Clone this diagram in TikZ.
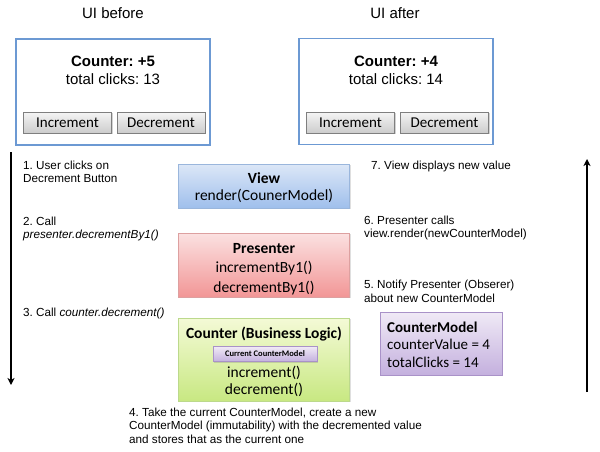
\documentclass[tikz,border=0pt]{standalone}
\usepackage{fontspec}
\setmainfont{Liberation Sans}
\newfontfamily\calib{Carlito}
\usetikzlibrary{shadows,arrows.meta}
\frenchspacing
\definecolor{uiborder}{HTML}{6C99D3}
\definecolor{btnborder}{HTML}{7F7F7F}
\definecolor{viewtop}{HTML}{DCE7F7}
\definecolor{viewbot}{HTML}{9FBFEC}
\definecolor{viewborder}{HTML}{9AB6DC}
\definecolor{prestop}{HTML}{FBE1E1}
\definecolor{presbot}{HTML}{F29696}
\definecolor{presborder}{HTML}{DDA0A0}
\definecolor{cnttop}{HTML}{F4FAD6}
\definecolor{cntbot}{HTML}{C8E882}
\definecolor{cntborder}{HTML}{BCD98C}
\definecolor{cmtop}{HTML}{F0EAF6}
\definecolor{cmbot}{HTML}{C4B0DE}
\definecolor{cmborder}{HTML}{A992C8}
\tikzset{
  x=1pt, y=-1pt,
  uibox/.style={draw=uiborder, line width=1.2pt, fill=white, minimum width=194pt, minimum height=106pt, inner sep=0pt},
  btn/.style={draw=btnborder, line width=0.5pt, top color=gray!8, bottom color=gray!40, minimum width=88pt, minimum height=21pt, inner sep=0pt, font=\calib\fontsize{15}{16}\selectfont, drop shadow={opacity=0.35, shadow xshift=1pt, shadow yshift=-1pt}},
  mvpbox/.style={line width=0.6pt, minimum width=171pt, inner sep=0pt, drop shadow={opacity=0.25, shadow xshift=1.2pt, shadow yshift=-1.2pt}},
  viewbox/.style={mvpbox, draw=viewborder, top color=viewtop, bottom color=viewbot, minimum height=44pt},
  presbox/.style={mvpbox, draw=presborder, top color=prestop, bottom color=presbot, minimum height=64pt},
  cntbox/.style={mvpbox, draw=cntborder, top color=cnttop, bottom color=cntbot, minimum height=83pt},
  cmbox/.style={mvpbox, draw=cmborder, top color=cmtop, bottom color=cmbot, minimum width=122pt, minimum height=63pt},
  smallcm/.style={line width=0.5pt, draw=cmborder, top color=cmtop, bottom color=cmbot, minimum width=104pt, minimum height=15pt, inner sep=0pt, font=\calib\bfseries\fontsize{8.5}{9}\selectfont, drop shadow={opacity=0.3, shadow xshift=1pt, shadow yshift=-1pt}},
  boxtxt/.style={anchor=base, inner sep=0pt, font=\calib\fontsize{15.5}{17}\selectfont},
  uititle/.style={anchor=base, inner sep=0pt, font=\fontsize{15}{17}\selectfont},
  uitxt/.style={anchor=base, inner sep=0pt, font=\fontsize{15}{17}\selectfont},
  note/.style={anchor=base west, inner sep=0pt, font=\fontsize{11.7}{13}\selectfont},
  flow/.style={line width=1.6pt, -{Stealth[length=7pt,width=7pt,inset=2pt]}}
}
\begin{document}
\begin{tikzpicture}
\useasboundingbox (0,0) rectangle (600,452);

% UI titles
\node[uititle] (tbefore) at (113,19) {UI before};
\node[uititle] (tafter) at (395,19) {UI after};

% UI before
\node[uibox] (uib) at (113,92) {};
\node[uitxt, font=\bfseries\fontsize{15}{17}\selectfont] (uibc) at (113,66.5) {Counter: +5};
\node[uitxt] (uibt) at (113,84.5) {total clicks: 13};
\node[btn] (bincb) at (67.5,122.5) {Increment};
\node[btn] (bdecb) at (161,122.5) {Decrement};

% UI after
\node[uibox] (uia) at (396,91.5) {};
\node[uitxt, font=\bfseries\fontsize{15}{17}\selectfont] (uiac) at (396,66.5) {Counter: +4};
\node[uitxt] (uiat) at (396,84.5) {total clicks: 14};
\node[btn] (binca) at (350.5,122.5) {Increment};
\node[btn] (bdeca) at (444.5,122.5) {Decrement};

% View
\node[viewbox] (view) at (264,186) {};
\node[boxtxt, font=\calib\bfseries\fontsize{15.5}{17}\selectfont] (viewt) at (264,183) {View};
\node[boxtxt] (viewr) at (264,200) {render(CounerModel)};

% Presenter
\node[presbox] (pres) at (264,265) {};
\node[boxtxt, font=\calib\bfseries\fontsize{15.5}{17}\selectfont] (prest) at (264,253) {Presenter};
\node[boxtxt] (presi) at (264,272.5) {incrementBy1()};
\node[boxtxt] (presd) at (264,292) {decrementBy1()};

% Counter
\node[cntbox] (cnt) at (264,359.5) {};
\node[boxtxt, font=\calib\bfseries\fontsize{15.5}{17}\selectfont] (cntt) at (264,338.5) {Counter (Business Logic)};
\node[smallcm] (curcm) at (265,354) {Current CounterModel};
\node[boxtxt] (cnti) at (264,377) {increment()};
\node[boxtxt] (cntd) at (264,394.5) {decrement()};

% CounterModel
\node[cmbox] (cm) at (441,343.5) {};
\node[boxtxt, anchor=base west, font=\calib\bfseries\fontsize{15}{17}\selectfont] (cmt) at (387,332) {CounterModel};
\node[boxtxt, anchor=base west, font=\calib\fontsize{15}{17}\selectfont] (cmv) at (387,349.5) {counterValue = 4};
\node[boxtxt, anchor=base west, font=\calib\fontsize{15}{17}\selectfont] (cmc) at (387,367.5) {totalClicks = 14};

% left notes
\node[note] (n1a) at (23,169) {1. User clicks on};
\node[note] (n1b) at (23,182.5) {Decrement Button};
\node[note] (n2a) at (23,225) {2. Call};
\node[note] (n2b) at (23,238.5) {\itshape presenter.decrementBy1()};
\node[note] (n3) at (23,316.5) {3. Call \itshape counter.decrement()};

% right notes
\node[note] (n7) at (371,169) {7. View displays new value};
\node[note] (n6a) at (364,224) {6. Presenter calls};
\node[note] (n6b) at (364,237.5) {view.render(newCounterModel)};
\node[note] (n5a) at (364,288.5) {5. Notify Presenter (Obserer)};
\node[note] (n5b) at (364,302) {about new CounterModel};

% bottom note
\node[note] (n4a) at (129,416) {4. Take the current CounterModel, create a new};
\node[note] (n4b) at (129,429.5) {CounterModel (immutability) with the decremented value};
\node[note] (n4c) at (129,443) {and stores that as the current one};

% flow arrows
\coordinate (dstart) at (11,152);
\coordinate (dend) at (11,385);
\coordinate (ustart) at (587,392);
\coordinate (uend) at (587,159);
\draw[flow] (dstart) -- (dend);
\draw[flow] (ustart) -- (uend);
\end{tikzpicture}
\end{document}
